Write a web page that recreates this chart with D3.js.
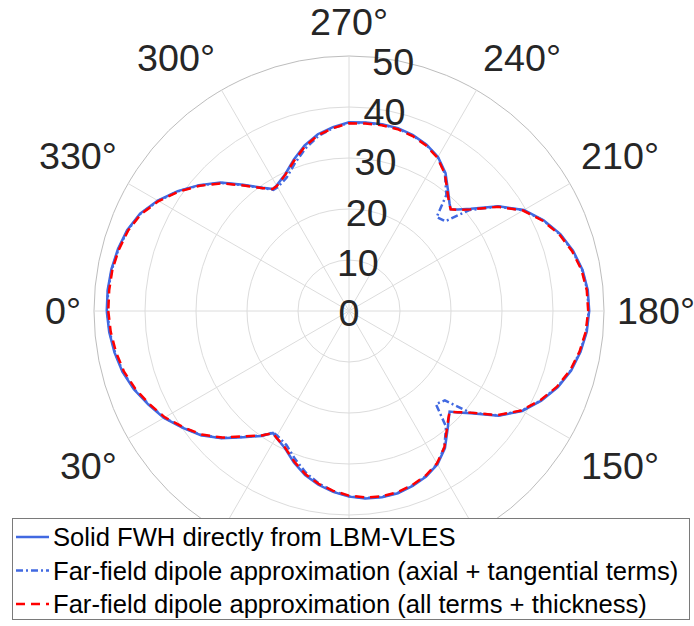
<!DOCTYPE html>
<html>
<head>
<meta charset="utf-8">
<script src="https://cdn.jsdelivr.net/npm/d3@7"></script>
<style>
    body { margin: 0; background: #fff; }
    svg { display: block; font-family: Arial, "Liberation Sans", Helvetica, sans-serif; }
</style>
</head>
<body>
<svg id="chart" width="694" height="626"></svg>
<script>
// angles (deg) shared by all three series
const theta = [0, 5, 10, 15, 20, 25, 30, 35, 40, 45, 50, 55, 58, 60, 65, 70, 75, 80, 85, 90, 95, 100, 105, 110, 115, 120, 125, 130, 133, 135, 137,
    140, 145, 150, 155, 160, 165, 170, 175, 180, 185, 190, 195, 200, 205, 210, 215, 220, 223, 225, 227,
    230, 235, 240, 245, 250, 255, 260, 265, 270, 275, 280, 285, 290, 295, 300, 302, 305, 310, 315, 320, 325, 330, 335, 340, 345, 350, 355, 360];

const solidFwh = [47.5, 47.2, 46.7, 46.0, 44.9, 43.4, 41.9, 39.9, 37.9, 35.3, 32.3, 29.9, 28.2, 28.6, 29.7, 31.6, 33.3, 34.6, 35.6, 36.4, 36.9, 37.1, 37.0, 36.5, 35.8, 34.7, 32.8, 30.1, 28.7, 27.9, 29.2,
    31.2, 35.8, 39.2, 41.6, 43.6, 45.1, 46.1, 46.8, 47.1, 47.0, 46.5, 45.5, 44.1, 42.1, 39.6, 35.8, 31.2, 29.2, 28.2, 28.9,
    30.3, 33.0, 34.9, 36.0, 36.7, 37.1, 37.2, 37.1, 37.0, 36.2, 35.2, 33.6, 31.6, 29.6, 28.4, 28.2, 29.5, 32.3, 35.6, 38.4, 41.0, 43.3, 45.2, 46.3, 46.9, 47.3, 47.5, 47.5];

const dipoleAxialTang = [47.4, 47.1, 46.6, 45.9, 44.8, 43.3, 41.8, 39.8, 37.8, 35.2, 32.2, 29.8, 28.1, 28.2, 29.0, 30.9, 32.8, 34.3, 35.5, 36.3, 36.8, 37.0, 36.9, 36.4, 35.7, 34.6, 32.6, 29.6, 25.0, 25.3, 25.7,
    31.0, 35.7, 39.1, 41.5, 43.5, 45.0, 46.0, 46.7, 47.0, 46.9, 46.4, 45.4, 44.0, 42.0, 39.5, 35.7, 30.8, 25.8, 25.5, 25.2,
    29.7, 32.8, 34.8, 35.9, 36.6, 37.0, 37.1, 37.0, 36.9, 36.0, 34.8, 33.0, 30.9, 28.9, 28.0, 28.0, 29.4, 32.2, 35.5, 38.3, 40.9, 43.2, 45.1, 46.2, 46.8, 47.2, 47.4, 47.4];

const dipoleAllTerms = [47.2, 46.9, 46.4, 45.7, 44.6, 43.2, 41.7, 39.7, 37.7, 35.1, 32.1, 29.8, 28.2, 28.6, 29.6, 31.4, 33.1, 34.4, 35.4, 36.2, 36.7, 36.9, 36.8, 36.3, 35.6, 34.5, 32.6, 29.9, 28.6, 27.9, 29.1,
    31.0, 35.6, 39.0, 41.4, 43.4, 44.9, 45.9, 46.6, 46.9, 46.8, 46.3, 45.3, 43.9, 41.9, 39.4, 35.6, 31.0, 29.1, 28.2, 28.8,
    30.1, 32.8, 34.7, 35.8, 36.5, 36.9, 37.0, 36.9, 36.8, 36.0, 35.0, 33.4, 31.4, 29.5, 28.3, 28.2, 29.4, 32.1, 35.4, 38.2, 40.8, 43.1, 45.0, 46.1, 46.7, 47.1, 47.2, 47.2];

const rTicks = [0, 10, 20, 30, 40, 50];
const thetaTicks = [0, 30, 60, 90, 120, 150, 180, 210, 240, 270, 300, 330];
const legendLabels = [
    'Solid FWH directly from LBM-VLES',
    'Far-field dipole approximation (axial + tangential terms)',
    'Far-field dipole approximation (all terms + thickness)'
];

const blue = '#4169E1', red = '#FF0000', textColor = '#262626';
const cx = 349, cy = 311, outerR = 255;
const legendTop = 518.5;

const svg = d3.select('#chart');
const plot = svg.append('g').attr('transform', `translate(${cx},${cy})`);

// 0 deg on the left, 270 at top, 180 on the right
const r = d3.scaleLinear().domain([0, 50]).range([0, outerR]);
const ang = d3.scaleLinear().domain([0, 360]).range([1.5 * Math.PI, -0.5 * Math.PI]);
const px = (t, v) => [r(v) * Math.sin(ang(t)), -r(v) * Math.cos(ang(t))];

// Grid
plot.selectAll('.ring')
    .data(rTicks.filter(d => d > 0))
    .enter()
    .append('circle')
    .attr('r', d => r(d))
    .attr('fill', 'none')
    .attr('stroke', d => d === 50 ? '#bdbdbd' : '#dcdcdc')
    .attr('stroke-width', 1);

plot.selectAll('.spoke')
    .data(thetaTicks)
    .enter()
    .append('line')
    .attr('x1', 0).attr('y1', 0)
    .attr('x2', d => px(d, 50)[0])
    .attr('y2', d => px(d, 50)[1])
    .attr('stroke', '#dcdcdc')
    .attr('stroke-width', 1);

// Theta labels, aligned away from the circle (the ones under the legend are hidden anyway)
const labelR = 268, fs = 37.7;
thetaTicks.forEach(t => {
    const a = ang(t);
    const ux = Math.sin(a), uy = -Math.cos(a);
    const lx = labelR * ux, ly = labelR * uy;
    const anchor = ux > 0.01 ? 'start' : ux < -0.01 ? 'end' : 'middle';
    let base;
    if (uy < -0.01) base = ly - 0.212 * fs;
    else if (uy > 0.01) base = ly + 0.905 * fs;
    else base = ly + 0.35 * fs;
    if (cy + base - 0.72 * fs > legendTop) return;
    plot.append('text')
        .attr('x', lx)
        .attr('y', base)
        .attr('text-anchor', anchor)
        .attr('font-size', fs)
        .attr('fill', textColor)
        .text(`${t}°`);
});

// Series
const line = d3.lineRadial()
    .angle((d, i) => ang(theta[i]))
    .radius(d => r(d))
    .curve(d3.curveLinear);

const series = [
    { values: solidFwh, color: blue, dash: null },
    { values: dipoleAxialTang, color: blue, dash: '7,3,2,3' },
    { values: dipoleAllTerms, color: red, dash: '9,6' }
];

series.forEach(s => {
    plot.append('path')
        .attr('d', line(s.values))
        .attr('fill', 'none')
        .attr('stroke', s.color)
        .attr('stroke-width', 2.5)
        .attr('stroke-dasharray', s.dash);
});

// R tick labels along 260 deg
plot.selectAll('.rlabel')
    .data(rTicks)
    .enter()
    .append('text')
    .attr('x', d => px(260, d)[0])
    .attr('y', d => px(260, d)[1] + 2)
    .attr('text-anchor', 'middle')
    .attr('dominant-baseline', 'central')
    .attr('font-size', fs)
    .attr('fill', textColor)
    .text(d => d);

// Legend
const legend = svg.append('g');
legend.append('rect')
    .attr('x', 12.5).attr('y', legendTop)
    .attr('width', 677).attr('height', 101)
    .attr('fill', '#fff')
    .attr('stroke', '#7a7a7a')
    .attr('stroke-width', 1);

const rowBase = [546, 579.5, 613];
series.forEach((s, i) => {
    legend.append('line')
        .attr('x1', 16).attr('x2', 49)
        .attr('y1', rowBase[i] - 9).attr('y2', rowBase[i] - 9)
        .attr('stroke', s.color)
        .attr('stroke-width', 2.5)
        .attr('stroke-dasharray', s.dash);
    legend.append('text')
        .attr('x', 53)
        .attr('y', rowBase[i])
        .attr('font-size', 25.6)
        .attr('fill', '#000')
        .text(legendLabels[i]);
});
</script>
</body>
</html>
